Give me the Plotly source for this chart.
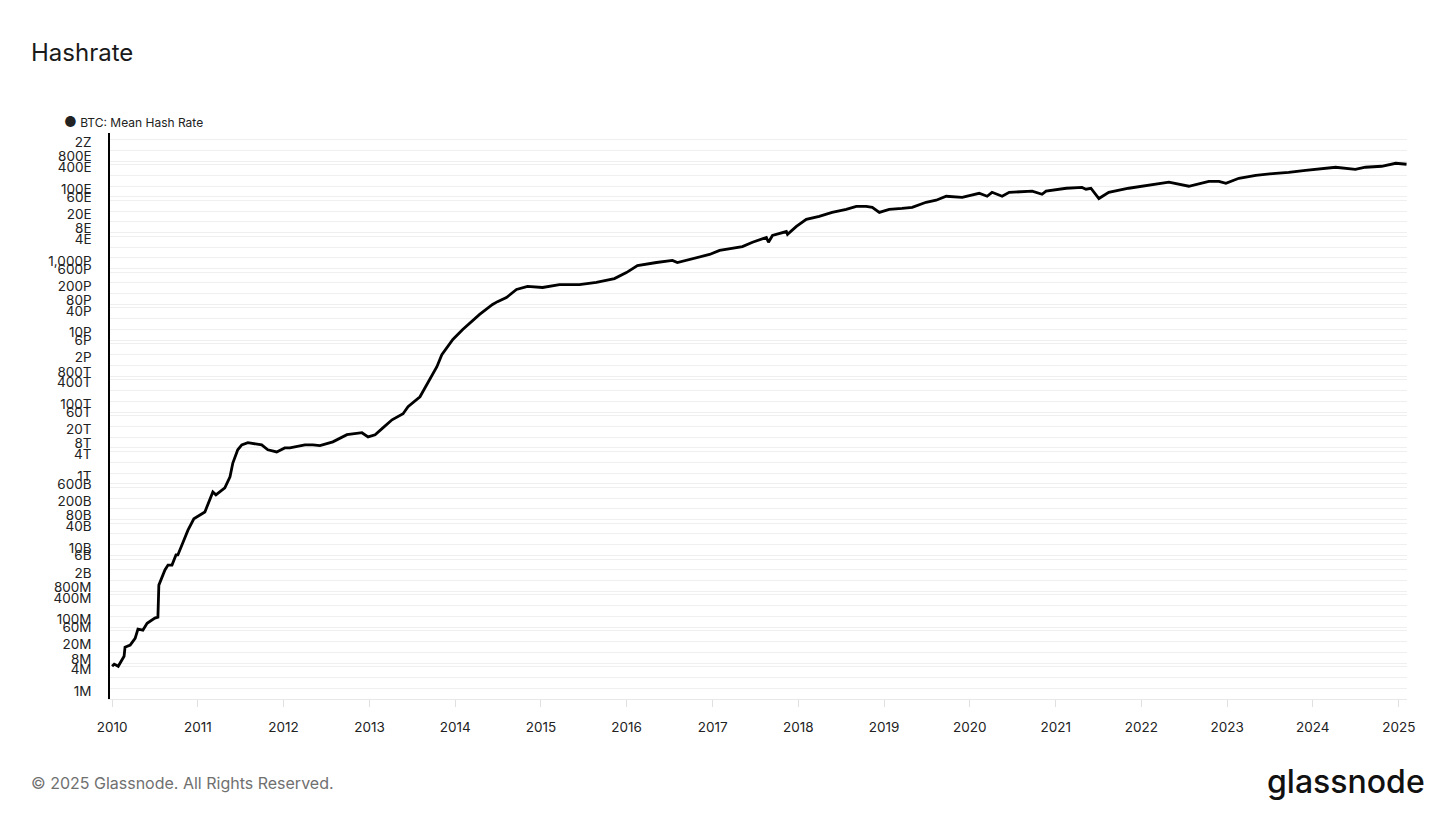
import plotly.graph_objects as go

# ---- data ----
dates = [
    "2010-01-01", "2010-01-10", "2010-01-27", "2010-02-08", "2010-02-21", "2010-02-25",
    "2010-03-19", "2010-04-09", "2010-04-21", "2010-05-12", "2010-05-30", "2010-07-02",
    "2010-07-15", "2010-07-19", "2010-08-14", "2010-08-27", "2010-09-13", "2010-09-30",
    "2010-10-08", "2010-11-20", "2010-12-15", "2011-01-31", "2011-03-06", "2011-03-19",
    "2011-04-26", "2011-05-18", "2011-05-30", "2011-06-20", "2011-07-07", "2011-08-02",
    "2011-09-30", "2011-10-26", "2011-12-03", "2012-01-06", "2012-01-28", "2012-04-01",
    "2012-05-05", "2012-06-04", "2012-07-29", "2012-09-27", "2012-11-30", "2012-12-26",
    "2013-01-25", "2013-02-27", "2013-04-07", "2013-05-24", "2013-06-14", "2013-08-04",
    "2013-09-07", "2013-10-15", "2013-11-05", "2013-12-22", "2014-02-02", "2014-04-15",
    "2014-06-09", "2014-06-30", "2014-08-07", "2014-09-19", "2014-11-05", "2015-01-08",
    "2015-03-21", "2015-06-14", "2015-08-25", "2015-11-10", "2015-12-31", "2016-02-16",
    "2016-05-07", "2016-07-14", "2016-08-04", "2016-10-08", "2016-12-19", "2017-01-31",
    "2017-05-08", "2017-06-20", "2017-08-18", "2017-08-27", "2017-09-13", "2017-11-11",
    "2017-11-16", "2017-12-24", "2018-02-04", "2018-03-31", "2018-05-25", "2018-07-24",
    "2018-09-05", "2018-10-17", "2018-11-12", "2018-12-12", "2019-01-23", "2019-03-19",
    "2019-05-01", "2019-06-29", "2019-08-11", "2019-09-23", "2019-11-30", "2020-02-10",
    "2020-03-15", "2020-04-05", "2020-05-18", "2020-06-17", "2020-09-23", "2020-11-04",
    "2020-11-21", "2021-02-15", "2021-04-23", "2021-05-10", "2021-05-31", "2021-07-04",
    "2021-08-15", "2021-11-08", "2022-02-02", "2022-04-28", "2022-07-22", "2022-10-15",
    "2022-11-27", "2022-12-27", "2023-02-20", "2023-05-03", "2023-07-27", "2023-09-20",
    "2023-12-01", "2024-02-07", "2024-04-07", "2024-06-30", "2024-08-12", "2024-10-20",
    "2024-12-19", "2025-02-03",
]
hash_rate = [
    4.1e6, 4.7e6, 4.1e6, 5.7e6, 7.8e6, 1.4e7,
    1.59e7, 2.47e7, 4.45e7, 4.17e7, 6.5e7, 9.0e7,
    9.6e7, 7.5e8, 1.98e9, 2.72e9, 2.72e9, 5.2e9,
    5.2e9, 2.55e10, 5.3e10, 8.2e10, 2.97e11, 2.47e11,
    3.87e11, 7.8e11, 1.9e12, 4.45e12, 6.1e12, 7.0e12,
    6.1e12, 4.45e12, 3.87e12, 5.0e12, 5.0e12, 6.1e12,
    6.1e12, 5.8e12, 7.4e12, 1.17e13, 1.33e13, 1.02e13,
    1.17e13, 1.81e13, 3.05e13, 4.5e13, 7.1e13, 1.34e14,
    3.3e14, 9.2e14, 1.98e15, 5.3e15, 1.0e16, 2.64e16,
    5.0e16, 6.0e16, 7.8e16, 1.31e17, 1.59e17, 1.49e17,
    1.8e17, 1.8e17, 2.06e17, 2.64e17, 3.87e17, 6.1e17,
    7.4e17, 8.5e17, 7.4e17, 9.6e17, 1.24e18, 1.61e18,
    2.06e18, 2.72e18, 3.7e18, 2.72e18, 4.2e18, 5.4e18,
    4.5e18, 7.5e18, 1.18e19, 1.43e19, 1.85e19, 2.25e19,
    2.72e19, 2.72e19, 2.55e19, 1.85e19, 2.25e19, 2.39e19,
    2.55e19, 3.54e19, 4.04e19, 5.2e19, 4.86e19, 6.3e19,
    5.2e19, 6.7e19, 5.2e19, 6.7e19, 7.2e19, 5.9e19,
    7.2e19, 8.7e19, 9.2e19, 8.2e19, 8.7e19, 4.5e19,
    6.7e19, 8.7e19, 1.05e20, 1.28e20, 9.9e19, 1.36e20,
    1.36e20, 1.19e20, 1.65e20, 2.0e20, 2.27e20, 2.42e20,
    2.76e20, 3.13e20, 3.35e20, 2.94e20, 3.35e20, 3.57e20,
    4.33e20, 4.06e20,
]

y_tick_vals = [
    1e6, 4e6, 8e6, 2e7, 6e7, 1e8, 4e8, 8e8, 2e9, 6e9, 1e10, 4e10, 8e10, 2e11, 6e11,
    1e12, 4e12, 8e12, 2e13, 6e13, 1e14, 4e14, 8e14, 2e15, 6e15, 1e16, 4e16, 8e16,
    2e17, 6e17, 1e18, 4e18, 8e18, 2e19, 6e19, 1e20, 4e20, 8e20, 2e21,
]
y_tick_text = [
    "1M", "4M", "8M", "20M", "60M", "100M", "400M", "800M", "2B", "6B", "10B", "40B",
    "80B", "200B", "600B", "1T", "4T", "8T", "20T", "60T", "100T", "400T", "800T", "2P",
    "6P", "10P", "40P", "80P", "200P", "600P", "1,000P", "4E", "8E", "20E", "60E",
    "100E", "400E", "800E", "2Z",
]
grid_mantissas = [1, 2, 4, 5]
grid_vals = [m * 10.0 ** k for k in range(5, 22) for m in grid_mantissas]

x_tick_vals = [f"{y}-01-01" for y in range(2010, 2026)]
x_tick_text = [str(y) for y in range(2010, 2026)]

series_name = "BTC: Mean Hash Rate"

FONT = "Inter, Roboto, 'Open Sans', sans-serif"
PW, PH = 1297, 566  # plot area size in px

fig = go.Figure()
fig.add_trace(go.Scatter(
    x=dates, y=hash_rate, mode="lines", name=series_name,
    line=dict(color="#000000", width=2.8), showlegend=False,
))

fig.update_layout(
    width=1440, height=803,
    paper_bgcolor="#ffffff", plot_bgcolor="#ffffff",
    margin=dict(l=102, r=41, t=125, b=112),
    font=dict(family=FONT, color="#222222"),
    xaxis=dict(
        type="date", range=["2009-12-23", "2025-02-05"],
        tickvals=x_tick_vals, ticktext=x_tick_text,
        showgrid=False, zeroline=False,
        showline=True, linecolor="#e8e8e8", linewidth=1,
        ticks="outside", ticklen=7, tickcolor="#e0e0e0", tickwidth=1,
        ticklabelstandoff=9,
        tickfont=dict(size=13.5, color="#222222", family=FONT),
    ),
    yaxis=dict(
        type="log", range=[5.70, 21.48],
        tickvals=y_tick_vals, ticktext=y_tick_text,
        showgrid=False, zeroline=False,
        showline=True, linecolor="#000000", linewidth=1.5,
        ticks="", ticklabelshift=3, ticklabelstandoff=14,
        tickfont=dict(size=13.5, color="#222222", family=FONT),
        minor=dict(tickvals=grid_vals, showgrid=True, gridcolor="#efefef",
                   gridwidth=1, ticks=""),
    ),
    annotations=[
        dict(text="Hashrate", xref="paper", yref="paper", x=(29 - 110) / PW,
             y=1.0 + (133 - 52) / PH,
             xanchor="left", yanchor="middle", showarrow=False,
             font=dict(size=24, color="#1a1a1a", family=FONT)),
        dict(text="<span style='font-size:14px'>●</span> " + series_name,
             xref="paper", yref="paper", x=(62 - 110) / PW, y=1.0 + (133 - 121) / PH,
             xanchor="left", yanchor="middle", showarrow=False,
             font=dict(size=12, color="#222222", family=FONT)),
        dict(text="© 2025 Glassnode. All Rights Reserved.", xref="paper", yref="paper",
             x=(29 - 110) / PW, y=-(783 - 699) / PH, xanchor="left", yanchor="middle",
             showarrow=False, font=dict(size=16, color="#707070", family=FONT)),
        dict(text="glassnode", xref="paper", yref="paper",
             x=(1427 - 110) / PW, y=-(781 - 699) / PH, xanchor="right", yanchor="middle",
             showarrow=False, font=dict(size=32, color="#111111", family=FONT, weight=500)),
    ],
)

fig.write_html("out.html")
